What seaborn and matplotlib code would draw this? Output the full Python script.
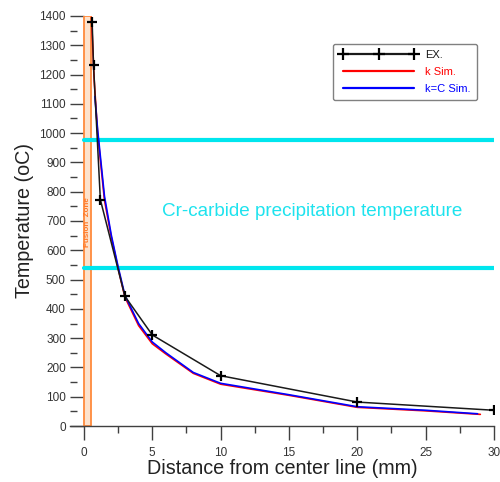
import numpy as np
import pandas as pd
import matplotlib
matplotlib.use("Agg")
import matplotlib.pyplot as plt
import seaborn as sns
from matplotlib.patches import Rectangle
from matplotlib.ticker import MultipleLocator

sns.set_theme(style="white")
plt.rcParams['font.family'] = ['Liberation Sans', 'DejaVu Sans']

# experimental measurements
ex_dist = [0.6, 0.7, 1.2, 3.0, 5.0, 10.0, 20.0, 30.0]
ex_temp = [1380, 1233, 773, 443, 311, 172, 82, 54]

# simulation, variable k
k_dist = [0.55, 0.75, 1.0, 1.5, 2.0, 2.5, 3.0, 4.0, 5.0, 6.0, 8.0, 10.0, 15.0, 20.0, 25.0, 29.0]
k_temp = [1395, 1180, 1000, 772, 645, 538, 440, 343, 281, 246, 180, 143, 105, 64, 52, 40]

# simulation, constant k
kc_dist = [0.8, 1.0, 1.5, 2.0, 2.5, 3.0, 4.0, 5.0, 6.0, 8.0, 10.0, 15.0, 20.0, 25.0, 28.8]
kc_temp = [1125, 1012, 785, 652, 544, 446, 350, 287, 250, 183, 146, 107, 66, 54, 42]

precip_lines = [976, 539]
fusion_width = 0.5

fig = plt.figure(figsize=(5.0, 4.82), dpi=100)
ax = fig.add_axes([0.140, 0.116, 0.848, 0.851])

ax.add_patch(Rectangle((0, 0), fusion_width, 1400, facecolor='#fde2cc',
                       edgecolor='#ff8a3c', linewidth=1.3, zorder=1))
ax.text(fusion_width / 2, 696, 'Fusion  Zone', rotation=90, ha='center', va='center',
        fontsize=5.8, color='#ff7a2a', fontweight='bold', zorder=2)

for t in precip_lines:
    ax.plot([0, 30], [t, t], color='#00e6ee', linewidth=3.0, zorder=2)
ax.text(5.7, 734, 'Cr-carbide precipitation temperature', color='#1ee3ee',
        fontsize=13.6, va='center', ha='left')

sns.lineplot(x=ex_dist, y=ex_temp, ax=ax, color='#1a1a1a', linewidth=1.1,
             marker='+', markersize=6.5, markeredgewidth=1.6, markeredgecolor='black',
             label='EX.', zorder=4)
sns.lineplot(x=k_dist, y=k_temp, ax=ax, color='red', linewidth=1.2,
             label='k Sim.', zorder=3)
sns.lineplot(x=kc_dist, y=kc_temp, ax=ax, color='blue', linewidth=1.2,
             label='k=C Sim.', zorder=3)

ax.set_xlim(-1.02, 30)
ax.set_ylim(0, 1400)
ax.xaxis.set_major_locator(MultipleLocator(5))
ax.xaxis.set_minor_locator(MultipleLocator(2.5))
ax.yaxis.set_major_locator(MultipleLocator(100))
ax.yaxis.set_minor_locator(MultipleLocator(50))
ax.set_xticks([0, 5, 10, 15, 20, 25, 30])

for s in ['top', 'right', 'left']:
    ax.spines[s].set_visible(False)
ax.spines['bottom'].set_color('#404040')
ax.spines['bottom'].set_linewidth(1.0)

ax.tick_params(axis='x', which='major', direction='out', length=10, width=1,
               color='#404040', labelsize=8.5, labelcolor='#333333', pad=5, bottom=True)
ax.tick_params(axis='x', which='minor', direction='out', length=5, width=1,
               color='#404040', bottom=True)
ax.tick_params(axis='y', which='major', direction='in', length=10, width=1,
               color='#404040', labelsize=8.5, labelcolor='#333333', pad=3, left=True)
ax.tick_params(axis='y', which='minor', direction='in', length=5, width=1,
               color='#404040', left=True)

ax.set_xlabel('Distance from center line (mm)', fontsize=14.2, color='#222222', labelpad=0)
ax.set_ylabel('Temperature (oC)', fontsize=14.2, color='#222222', labelpad=4)

leg = ax.legend(loc='upper right', bbox_to_anchor=(0.974, 0.946), fontsize=8,
                numpoints=3, handlelength=7.0, frameon=True, fancybox=True,
                labelcolor='linecolor', borderpad=0.6, labelspacing=0.6,
                handletextpad=0.7, markerscale=1.4)
leg.get_frame().set_edgecolor('#808080')
leg.get_frame().set_linewidth(1.0)
leg.get_frame().set_alpha(1)
for h in leg.get_lines():
    h.set_linewidth(1.6)

fig.savefig('out.png', dpi=100)
